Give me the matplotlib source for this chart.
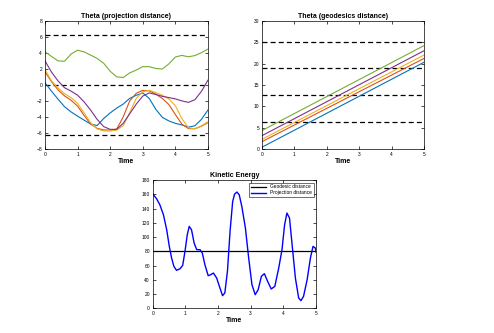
import numpy as np
import matplotlib
matplotlib.use("Agg")
import matplotlib.pyplot as plt

plt.rcParams["font.family"] = ["Liberation Sans", "DejaVu Sans"]

# angle trajectories under the projection distance
t_proj = [0.0, 0.2, 0.4, 0.6, 0.8, 1.0, 1.2, 1.4, 1.6, 1.8, 2.0, 2.2, 2.4,
          2.6, 2.8, 3.0, 3.2, 3.4, 3.6, 3.8, 4.0, 4.2, 4.4, 4.6, 4.8, 5.0]
theta_blue = [0.27, -0.78, -1.78, -2.72, -3.37, -3.9, -4.4, -4.88, -5.08, -4.2, -3.5, -2.9, -2.4,
              -1.68, -1.3, -1.0, -1.7, -3.05, -4.05, -4.5, -4.8, -5.0, -5.28, -5.1, -4.3, -3.14]
theta_orange = [1.64, 0.4, -0.62, -1.37, -1.92, -2.65, -3.8, -4.88, -5.42, -5.62, -5.63, -5.52, -4.0,
                -2.0, -1.05, -0.68, -0.75, -1.15, -1.7, -2.45, -3.7, -4.9, -5.45, -5.48, -5.15, -4.72]
theta_yellow = [1.93, 0.5, -0.38, -1.1, -1.6, -2.3, -3.5, -4.72, -5.5, -5.75, -5.76, -5.65, -5.1,
                -3.45, -1.68, -0.85, -0.68, -0.95, -1.3, -1.75, -2.6, -4.2, -5.35, -5.48, -5.1, -4.6]
theta_purple = [3.0, 1.6, 0.5, -0.35, -0.78, -1.28, -2.12, -3.14, -4.3, -5.2, -5.55, -5.55, -4.8,
                -3.6, -2.4, -1.4, -1.0, -1.2, -1.43, -1.58, -1.75, -2.0, -2.18, -1.85, -0.8, 0.6]
theta_green = [4.13, 3.55, 3.0, 2.95, 3.85, 4.33, 4.12, 3.72, 3.3, 2.7, 1.7, 1.0, 0.92,
               1.5, 1.85, 2.28, 2.27, 2.05, 1.98, 2.62, 3.48, 3.68, 3.5, 3.66, 4.02, 4.47]

# angle trajectories under the geodesic distance (start and end values)
t_geo = [0, 5]
geo_blue = [0.4, 20.3]
geo_orange = [1.7, 21.2]
geo_yellow = [2.25, 22.0]
geo_purple = [3.1, 23.0]
geo_green = [4.3, 24.2]

# kinetic energy
t_kin = [0.0, 0.12, 0.22, 0.33, 0.43, 0.51, 0.58, 0.65, 0.73, 0.84, 0.92, 0.99, 1.06, 1.12,
         1.19, 1.27, 1.35, 1.45, 1.52, 1.6, 1.7, 1.78, 1.86, 1.96, 2.06, 2.14, 2.21, 2.29,
         2.37, 2.45, 2.51, 2.58, 2.65, 2.73, 2.84, 2.94, 3.04, 3.14, 3.23, 3.33, 3.42, 3.52,
         3.63, 3.74, 3.86, 3.96, 4.04, 4.11, 4.19, 4.27, 4.37, 4.47, 4.54, 4.62, 4.73, 4.83,
         4.91, 4.98, 5.0]
ke_proj = [160.9, 153.8, 145.4, 131.4, 110.3, 86.9, 70.6, 58.9, 53.3, 55.6, 60.3, 79.9, 103.3, 115,
           110.3, 91.6, 82.3, 82.3, 77.6, 61.2, 45.8, 47.2, 49.5, 42.5, 28.5, 17.7, 21.5, 51.9,
           108, 150, 160.4, 163.2, 159.4, 143, 112.6, 70.6, 33.2, 19.1, 26.1, 44.9, 48.6, 37.8,
           27.1, 30.8, 56.5, 82.3, 117.3, 133.7, 126.7, 89.3, 42.5, 14.5, 10.7, 16.8, 40.2, 70.6,
           86.9, 84.6, 79]
ke_geo = 80

colors = ["#0072BD", "#D95319", "#EDB120", "#7E2F8E", "#77AC30"]
two_pi = 2 * np.pi


def style_axes(ax, title):
    ax.set_title(title, fontsize=5, fontweight="bold", pad=2)
    ax.set_xlabel("Time", fontsize=5, fontweight="bold", labelpad=1)
    ax.tick_params(direction="in", length=2, width=0.5, labelsize=3.5, pad=2,
                   top=True, right=True)
    for spine in ax.spines.values():
        spine.set_linewidth(0.5)


fig = plt.figure(figsize=(4.94, 3.33), dpi=100)

ax1 = fig.add_axes([0.091, 0.5526, 0.330, 0.385])
for k in (-1, 0, 1):
    ax1.axhline(k * two_pi, color="black", lw=0.9, ls=(0, (4, 2.5)))
for ys, c in zip([theta_blue, theta_orange, theta_yellow, theta_purple, theta_green], colors):
    ax1.plot(t_proj, ys, color=c, lw=0.8)
ax1.set_xlim(0, 5)
ax1.set_ylim(-8, 8)
ax1.set_xticks(range(6))
ax1.set_yticks(range(-8, 9, 2))
style_axes(ax1, "Theta (projection distance)")

ax2 = fig.add_axes([0.530, 0.5526, 0.3285, 0.385])
for k in (1, 2, 3, 4):
    ax2.axhline(k * two_pi, color="black", lw=0.9, ls=(0, (4, 2.5)))
for ys, c in zip([geo_blue, geo_orange, geo_yellow, geo_purple, geo_green], colors):
    ax2.plot(t_geo, ys, color=c, lw=0.8)
ax2.set_xlim(0, 5)
ax2.set_ylim(0, 30)
ax2.set_xticks(range(6))
ax2.set_yticks(range(0, 31, 5))
style_axes(ax2, "Theta (geodesics distance)")

ax3 = fig.add_axes([0.309, 0.0742, 0.3306, 0.385])
ax3.plot([0, 5], [ke_geo, ke_geo], color="black", lw=0.9, label="Geodesic distance")
ax3.plot(t_kin, ke_proj, color="#0000FF", lw=1.0, label="Projection distance")
ax3.set_xlim(0, 5)
ax3.set_ylim(0, 180)
ax3.set_xticks(range(6))
ax3.set_yticks(range(0, 181, 20))
style_axes(ax3, "Kinetic Energy")
leg = ax3.legend(loc="upper right", fontsize=3.5, fancybox=False, edgecolor="black",
                 handlelength=3, borderpad=0.4, labelspacing=0.2)
leg.get_frame().set_linewidth(0.5)

fig.savefig("out.png", dpi=100)
